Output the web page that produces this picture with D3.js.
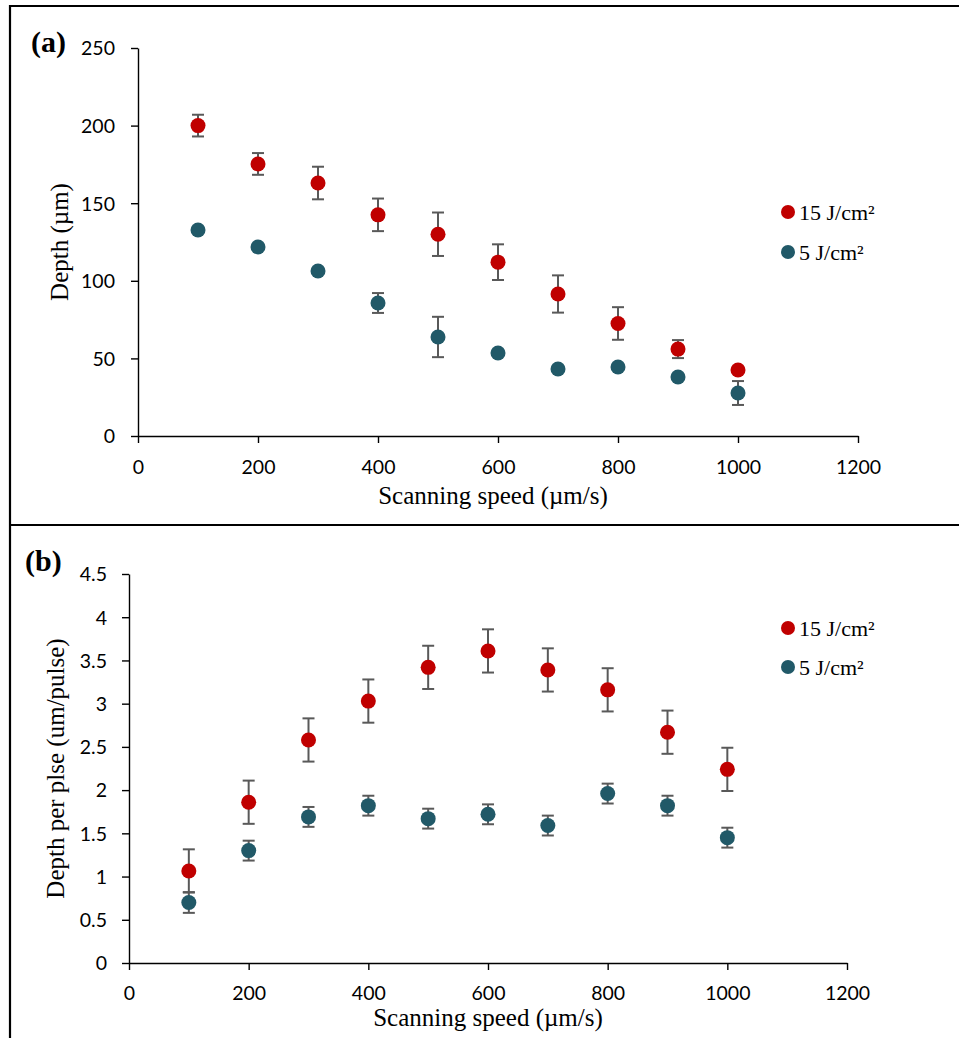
<!DOCTYPE html>
<html><head><meta charset="utf-8">
<script src="https://cdn.jsdelivr.net/npm/d3@7"></script>
<style>body{margin:0;background:#fff}svg{display:block}</style>
</head><body>
<svg id="c" width="959" height="1038"></svg>
<script>
// ---- data ----
const speeds = [100,200,300,400,500,600,700,800,900,1000];
const depth15 = [200,175.3,163,142.5,130,112,91.5,72.5,56,42.5];
const depth15Err = [7,7,10.5,10.5,14,11.5,12,10.5,5.8,2];
const depth5 = [132.7,121.8,106.3,85.7,63.8,53.5,43.2,44.5,38,27.7];
const depth5Err = [2,1.5,1.5,6.4,13,2,1.5,1.5,1.5,7.7];
const dpp15 = [1.065,1.86,2.58,3.03,3.42,3.61,3.39,3.16,2.67,2.24];
const dpp15Err = [0.25,0.25,0.25,0.25,0.25,0.25,0.25,0.25,0.25,0.25];
const dpp5 = [0.70,1.30,1.69,1.82,1.67,1.72,1.59,1.96,1.82,1.45];
const dpp5Err = [0.12,0.115,0.115,0.115,0.115,0.115,0.115,0.115,0.115,0.115];
const xTicks = [0,200,400,600,800,1000,1200];
const yTicksA = [0,50,100,150,200,250];
const yTicksB = [0,0.5,1,1.5,2,2.5,3,3.5,4,4.5];
const seriesNames = ["15 J/cm²","5 J/cm²"];
const colors = ["#C00000","#215968"];

const svg = d3.select("#c");
const tickFont = "Lato, 'Open Sans', sans-serif";
const serif = "'Liberation Serif','Times New Roman',serif";

// outer frame
svg.append("path").attr("d","M10,1038 V6 H959").attr("fill","none").attr("stroke","#000").attr("stroke-width",2.2);
svg.append("line").attr("x1",10).attr("x2",959).attr("y1",525).attr("y2",525).attr("stroke","#000").attr("stroke-width",2.2);

function panel(opt){
  const x = d3.scaleLinear().domain([0,1200]).range([opt.x0,opt.x1]);
  const y = d3.scaleLinear().domain([0,opt.ymax]).range([opt.y0,opt.y1]);
  const g = svg.append("g");
  const ya = g.append("g").attr("transform",`translate(${opt.x0},0)`)
    .call(d3.axisLeft(y).tickValues(opt.yTicks).tickSize(7).tickSizeOuter(0).tickPadding(opt.ypad)
      .tickFormat(d=>String(d)));
  const xa = g.append("g").attr("transform",`translate(0,${opt.y0})`)
    .call(d3.axisBottom(x).tickValues(xTicks).tickSize(7).tickSizeOuter(0).tickPadding(opt.xpad)
      .tickFormat(d=>String(d)));
  [ya,xa].forEach(a=>{
    a.select(".domain").attr("stroke","#000").attr("stroke-width",1.4);
    a.selectAll(".tick line").attr("stroke","#000").attr("stroke-width",1.4);
    a.selectAll("text").attr("fill","#000").style("font-family",tickFont).style("font-size","19.5px");
  });
  ya.selectAll("text").attr("dy","0.35em");
  // titles
  g.append("text").attr("x",opt.xtx).attr("y",opt.xty).attr("text-anchor","middle")
    .style("font-family",serif).style("font-size","25px").text("Scanning speed (µm/s)");
  g.append("text").attr("transform",`translate(${opt.ytx},${(opt.y0+opt.y1)/2}) rotate(-90)`)
    .attr("text-anchor","middle").attr("dy","0.35em")
    .style("font-family",serif).style("font-size","25px").text(opt.ytitle);
  g.append("text").attr("x",opt.lx).attr("y",opt.ly).style("font-family",serif)
    .style("font-weight","bold").style("font-size","30px").text(opt.label);
  // error bars
  opt.series.forEach((s,si)=>{
    const eg = g.append("g");
    speeds.forEach((sp,i)=>{
      const cx = x(sp), lo = y(s.v[i]-s.e[i]), hi = y(s.v[i]+s.e[i]);
      eg.append("line").attr("x1",cx).attr("x2",cx).attr("y1",lo).attr("y2",hi)
        .attr("stroke","#595959").attr("stroke-width",2);
      [lo,hi].forEach(yy=>eg.append("line").attr("x1",cx-6).attr("x2",cx+6).attr("y1",yy).attr("y2",yy)
        .attr("stroke","#595959").attr("stroke-width",2));
    });
  });
  // markers
  opt.series.forEach((s,si)=>{
    g.append("g").selectAll("circle").data(speeds).join("circle")
      .attr("cx",d=>x(d)).attr("cy",(d,i)=>y(s.v[i])).attr("r",7.5).attr("fill",colors[si]);
  });
  // legend
  seriesNames.forEach((n,i)=>{
    const ly = opt.legY[i];
    g.append("circle").attr("cx",788).attr("cy",ly).attr("r",7).attr("fill",colors[i]);
    g.append("text").attr("x",799).attr("y",ly).attr("dy","0.35em")
      .style("font-family",serif).style("font-size","22px").text(n);
  });
}

panel({x0:138,x1:858,y0:436,y1:48,ymax:250,yTicks:yTicksA,xpad:17,ypad:16,
  xtx:493,xty:504,ytx:59,ytitle:"Depth (µm)",label:"(a)",lx:31,ly:52,
  legY:[212,252],
  series:[{v:depth15,e:depth15Err},{v:depth5,e:depth5Err}]});
panel({x0:129,x1:847,y0:963,y1:574,ymax:4.5,yTicks:yTicksB,xpad:16,ypad:15,
  xtx:488,xty:1026,ytx:55,ytitle:"Depth per plse (um/pulse)",label:"(b)",lx:25,ly:571,
  legY:[628,667],
  series:[{v:dpp15,e:dpp15Err},{v:dpp5,e:dpp5Err}]});
</script>
</body></html>
